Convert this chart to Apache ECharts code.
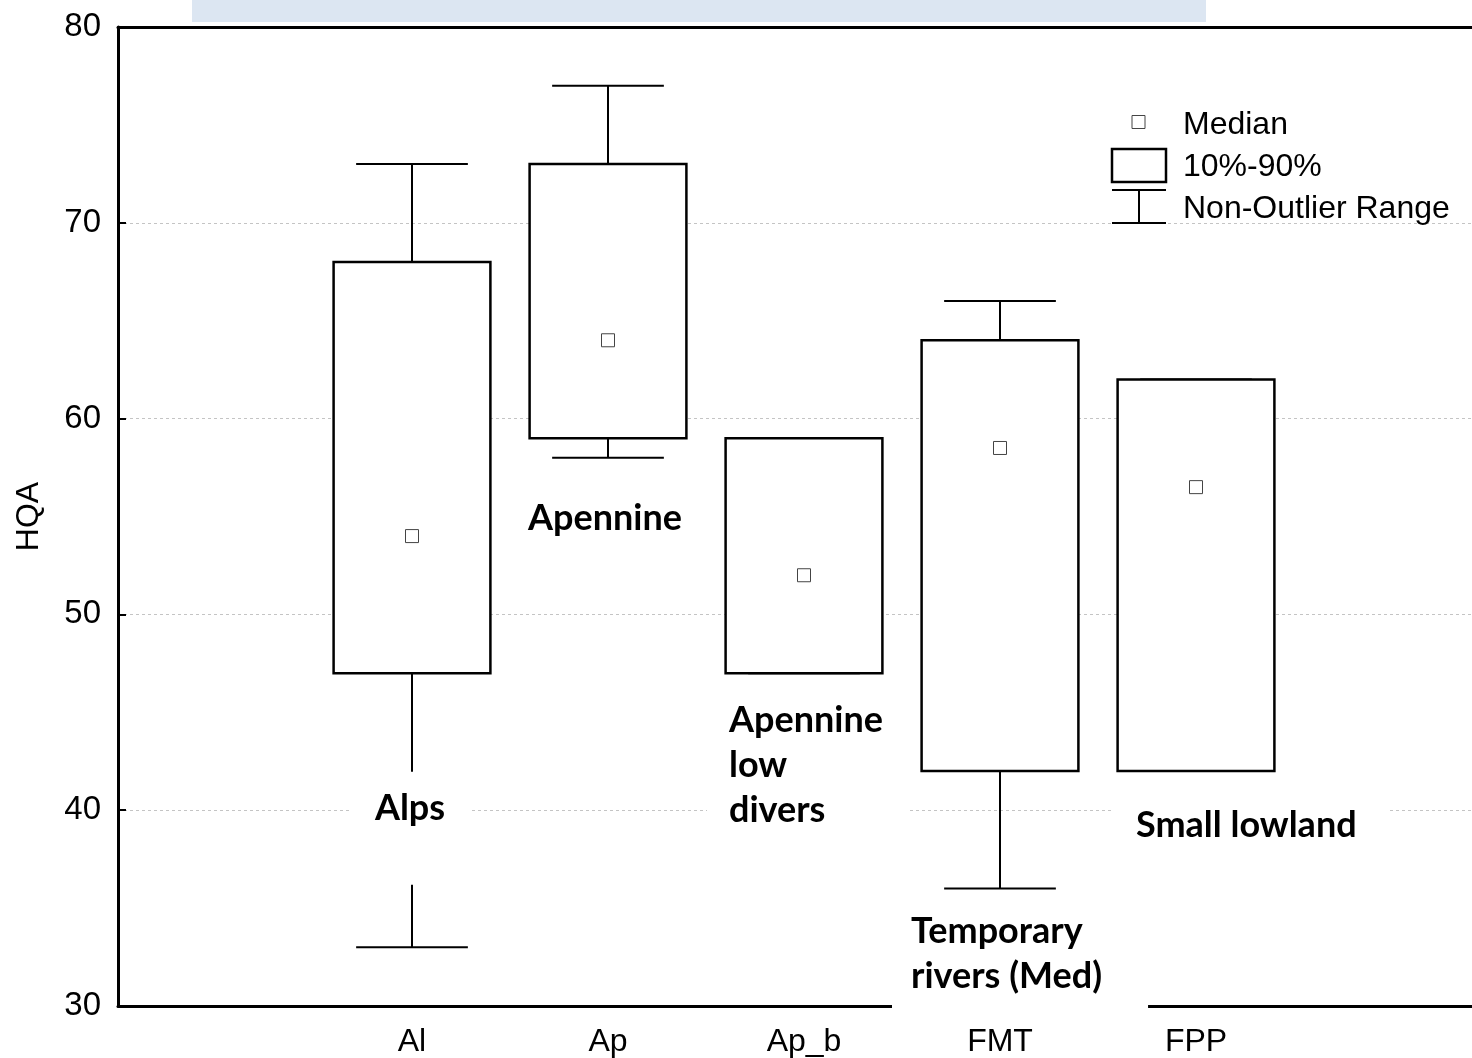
<!DOCTYPE html>
<html>
<head>
<meta charset="utf-8">
<script src="https://cdn.jsdelivr.net/npm/echarts@6/dist/echarts.min.js"></script>
<style>
  html, body { margin: 0; padding: 0; background: #fff; overflow: hidden; }
  /* the right end of the frame runs past the window edge */
  #chart { width: 1490px; height: 1058px; }
</style>
</head>
<body>
<div id="chart"></div>
<script>
// Axis slots: the outer two are empty padding slots with ticks only
const tickLabels = ['', 'Al', 'Ap', 'Ap_b', 'FMT', 'FPP', ''];

// HQA by river type
const groups      = ['Al', 'Ap', 'Ap_b', 'FMT', 'FPP'];
const whiskerLow  = [33, 58, 47, 36, 42];
const p10         = [47, 59, 47, 42, 42];
const medians     = [54, 64, 52, 58.5, 56.5];
const p90         = [68, 73, 59, 64, 62];
const whiskerHigh = [73, 77, 59, 66, 62];

// Descriptive names shown next to each group
const groupNames = ['Alps', 'Apennine', 'Apennine\nlow\ndivers', 'Temporary\nrivers (Med)', 'Small lowland'];

// Placement of the descriptive names: HQA value of the first line, pixel shift from the
// category centre, alignment and the white box padding [top, right, bottom, left]
const nameLayout = [
  { value: 40.1, dx: -2,  align: 'center', pad: [14, 24, 54, 24] },
  { value: 54.9, dx: -3,  align: 'center', pad: [6, 8, 6, 8] },
  { value: 44.6, dx: -75, align: 'left',   pad: [12, 26, 18, 22] },
  { value: 33.8, dx: -89, align: 'left',   pad: [12, 46, 20, 19] },
  { value: 39.2, dx: -60, align: 'left',   pad: [14, 32, 16, 22] }
];

const boxData = groups.map((g, i) => [
  tickLabels.indexOf(g), whiskerLow[i], p10[i], medians[i], p90[i], whiskerHigh[i]
]);
const nameData = groups.map((g, i) => [tickLabels.indexOf(g), nameLayout[i].value]);

const NAME_FONT = 'Lato, "Noto Sans", sans-serif';
const AXIS_FONT = '"Liberation Sans", Arial, sans-serif';

function renderBox(params, api) {
  const c = api.value(0);
  const band = api.size([1, 0])[0];
  const boxW = band * 0.8;
  const capW = band * 0.57;
  const pLo = api.coord([c, api.value(1)]);
  const x = pLo[0];
  const yLo = pLo[1];
  const yQ1 = api.coord([c, api.value(2)])[1];
  const yMed = api.coord([c, api.value(3)])[1];
  const yQ3 = api.coord([c, api.value(4)])[1];
  const yHi = api.coord([c, api.value(5)])[1];
  const wl = { stroke: '#000', lineWidth: 2 };
  return {
    type: 'group',
    children: [
      { type: 'line', shape: { x1: x, y1: yQ3, x2: x, y2: yHi }, style: wl },
      { type: 'line', shape: { x1: x, y1: yQ1, x2: x, y2: yLo }, style: wl },
      { type: 'line', shape: { x1: x - capW / 2, y1: yHi, x2: x + capW / 2, y2: yHi }, style: wl },
      { type: 'line', shape: { x1: x - capW / 2, y1: yLo, x2: x + capW / 2, y2: yLo }, style: wl },
      { type: 'rect', shape: { x: x - boxW / 2, y: yQ3, width: boxW, height: yQ1 - yQ3 },
        style: { fill: '#fff', stroke: '#000', lineWidth: 2.5 } },
      { type: 'rect', shape: { x: x - 6.5, y: yMed - 6.5, width: 13, height: 13 },
        style: { fill: '#fff', stroke: '#444', lineWidth: 1 } }
    ]
  };
}

function renderName(params, api) {
  const i = params.dataIndex;
  const lay = nameLayout[i];
  const p = api.coord([api.value(0), api.value(1)]);
  const fontSize = 36;
  const lineH = 45;
  const text = groupNames[i];
  // measure the widest line to find the outer box
  const lines = text.split('\n');
  const ctx = renderName._ctx || (renderName._ctx = document.createElement('canvas').getContext('2d'));
  ctx.font = 'bold ' + fontSize + 'px ' + NAME_FONT;
  const w = Math.max.apply(null, lines.map(l => ctx.measureText(l).width));
  const textLeft = lay.align === 'center' ? p[0] + lay.dx - w / 2 : p[0] + lay.dx;
  const textTop = p[1] - lineH / 2;
  return {
    type: 'text',
    x: textLeft - lay.pad[3],
    y: textTop - lay.pad[0],
    style: {
      text: text,
      fontSize: fontSize,
      fontWeight: 'bold',
      fontFamily: NAME_FONT,
      lineHeight: lineH,
      fill: '#000',
      align: 'left',
      verticalAlign: 'top',
      backgroundColor: '#fff',
      padding: lay.pad
    }
  };
}

const chart = echarts.init(document.getElementById('chart'), null, { renderer: 'canvas' });

const xAxisBase = {
  type: 'category',
  data: tickLabels,
  boundaryGap: true,
  axisLine: { lineStyle: { color: '#000', width: 3 } },
  axisTick: { inside: true, length: 8, alignWithLabel: true, interval: 0, lineStyle: { color: '#000', width: 2 } },
  splitLine: { show: false }
};

// key shapes and texts, drawn above the grid lines
const KEY_Z = 30;
const keyText = (label, y) => ({
  type: 'text', x: 71, y: y, z: KEY_Z,
  style: { text: label, fontSize: 32, fontFamily: AXIS_FONT, fill: '#000', verticalAlign: 'middle' }
});

chart.setOption({
  animation: false,
  backgroundColor: '#fff',
  grid: { left: 118, top: 27, right: 0, height: 979, containLabel: false },
  xAxis: [
    Object.assign({}, xAxisBase, {
      position: 'bottom',
      axisLabel: { interval: 0, margin: 20, fontSize: 32, color: '#000', fontFamily: AXIS_FONT }
    }),
    Object.assign({}, xAxisBase, {
      position: 'top',
      axisLabel: { show: false }
    })
  ],
  yAxis: {
    type: 'value',
    min: 30,
    max: 80,
    interval: 10,
    name: 'HQA',
    nameLocation: 'middle',
    nameRotate: 90,
    nameGap: 73,
    nameTextStyle: { fontSize: 32, color: '#000', fontFamily: AXIS_FONT },
    axisLine: { show: true, lineStyle: { color: '#000', width: 3 } },
    axisTick: { show: true, inside: true, length: 8, lineStyle: { color: '#000', width: 2 } },
    axisLabel: { margin: 17, fontSize: 33, color: '#000', fontFamily: AXIS_FONT },
    splitLine: { show: true, lineStyle: { color: '#c4c4c4', width: 1, type: [3, 3] } }
  },
  series: [
    {
      type: 'custom',
      name: 'HQA',
      xAxisIndex: 0,
      yAxisIndex: 0,
      z: 3,
      renderItem: renderBox,
      encode: { x: 0, y: [1, 2, 3, 4, 5] },
      data: boxData
    },
    {
      type: 'custom',
      name: 'Groups',
      xAxisIndex: 0,
      yAxisIndex: 0,
      z: 10,
      renderItem: renderName,
      encode: { x: 0, y: 1 },
      data: nameData
    }
  ],
  graphic: [
    // title band above the frame
    { type: 'rect', x: 192, y: 0, shape: { width: 1014, height: 22 }, style: { fill: '#dce6f2' }, z: 0 },
    // key
    { type: 'group', x: 1112, y: 110, z: KEY_Z, children: [
      { type: 'rect', z: KEY_Z, shape: { x: 20, y: 5.5, width: 13, height: 13 }, style: { fill: '#fff', stroke: '#444', lineWidth: 1 } },
      { type: 'rect', z: KEY_Z, shape: { x: 0, y: 39, width: 54, height: 33 }, style: { fill: '#fff', stroke: '#000', lineWidth: 2.5 } },
      { type: 'line', z: KEY_Z, shape: { x1: 0, y1: 80, x2: 54, y2: 80 }, style: { stroke: '#000', lineWidth: 2 } },
      { type: 'line', z: KEY_Z, shape: { x1: 27, y1: 80, x2: 27, y2: 113 }, style: { stroke: '#000', lineWidth: 2 } },
      { type: 'line', z: KEY_Z, shape: { x1: 0, y1: 113, x2: 54, y2: 113 }, style: { stroke: '#000', lineWidth: 2 } },
      keyText('Median', 15),
      keyText('10%-90%', 57),
      keyText('Non-Outlier Range', 99)
    ] }
  ]
});
</script>
</body>
</html>
